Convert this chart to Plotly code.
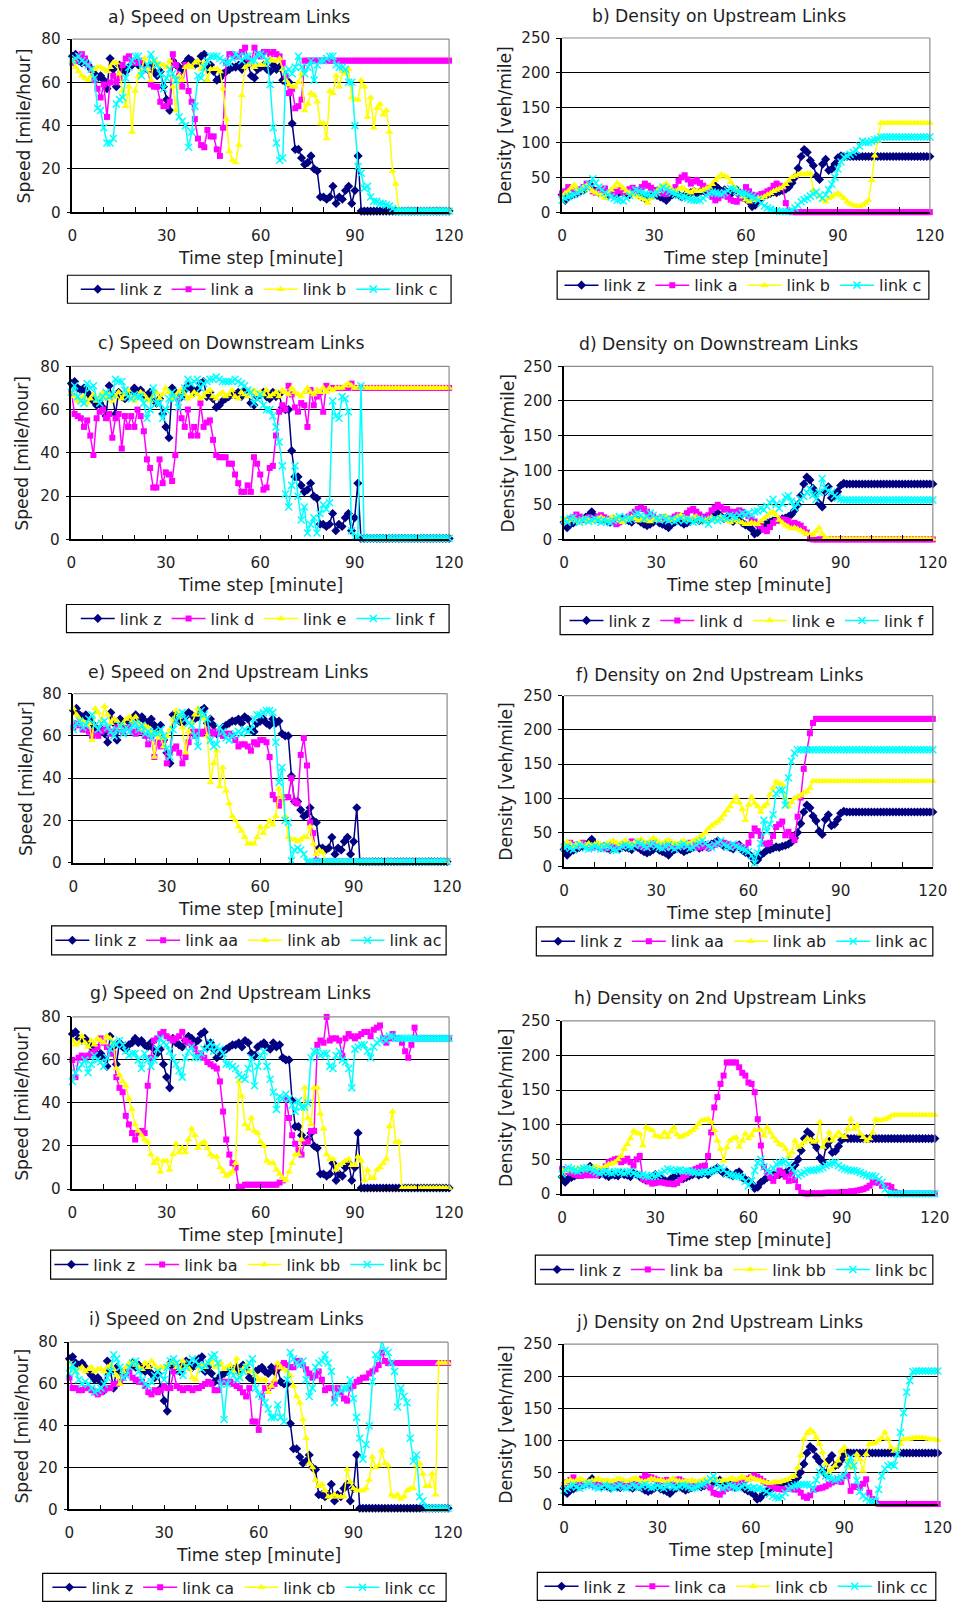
import plotly.graph_objects as go

# Target positions below are given in output-image pixels (958 x 1602).
# The page is rendered with an 8px top offset and a ~0.988 scale, so every
# target position is mapped back to figure pixels through to_fig_x/to_fig_y.
W, H = 958, 1602
S, CX, CY = 0.988, 1.0, 8.0
FW, FH = 970, 1614
T = list(range(121))

# ---------------- speed series [mile/hour] ----------------
SPEED_Z = [
    72, 73, 70, 69, 70, 68, 66, 64, 62, 63,
    61, 57, 71, 66, 58, 68, 66, 65, 67, 68,
    70, 68, 69, 67, 66, 68, 65, 63, 65, 58,
    52, 47, 70, 68, 67, 66, 69, 71, 70, 68,
    69, 72, 73, 66, 68, 65, 61, 62, 64, 65,
    66, 67, 67, 68, 66, 69, 68, 63, 62, 66,
    67, 68, 66, 65, 68, 66, 67, 61, 60, 60,
    41, 29, 29, 25, 22, 23, 26, 20, 19, 7,
    7, 6, 7, 12, 4, 7, 6, 10, 12, 4,
    10, 26, 0.5, 0.5, 0.5, 0.5, 0.5, 0.5, 0.5, 0.5,
    0.5, 0.5, 0.5, 0.5, 0.5, 0.5, 0.5, 0.5, 0.5, 0.5,
    0.5, 0.5, 0.5, 0.5, 0.5, 0.5, 0.5, 0.5, 0.5, 0.5,
    0.5]

SPEED_A = [
    69, 70, 72, 73, 71, 68, 66, 61, 57, 53,
    59, 44, 60, 63, 60, 62, 68, 71, 72, 70,
    69, 69, 70, 66, 66, 59, 58, 58, 51, 49,
    49, 51, 73, 68, 63, 58, 68, 56, 51, 43,
    34, 31, 30, 38, 35, 35, 29, 26, 39, 69,
    73, 73, 72, 72, 74, 76, 71, 69, 76, 73,
    72, 74, 74, 73, 74, 73, 72, 69, 63, 55,
    57, 48, 49, 52, 70, 70, 70, 70, 70, 70,
    70, 70, 70, 70, 70, 70, 70, 70, 70, 70,
    70, 70, 70, 70, 70, 70, 70, 70, 70, 70,
    70, 70, 70, 70, 70, 70, 70, 70, 70, 70,
    70, 70, 70, 70, 70, 70, 70, 70, 70, 70,
    70]

SPEED_B = [
    70, 67, 65, 63, 62, 61, 63, 66, 67, 67,
    66, 65, 67, 69, 69, 64, 56, 49, 58, 37,
    56, 63, 66, 71, 66, 61, 70, 69, 68, 68,
    67, 70, 58, 47, 63, 61, 67, 68, 67, 69,
    70, 66, 69, 61, 66, 66, 66, 65, 57, 43,
    28, 24, 23, 31, 54, 67, 68, 69, 67, 68,
    68, 68, 70, 71, 70, 70, 71, 66, 61, 59,
    58, 58, 60, 64, 47, 50, 55, 54, 51, 41,
    41, 34, 56, 55, 63, 58, 65, 64, 66, 53,
    52, 52, 61, 58, 44, 53, 39, 48, 50, 45,
    47, 37, 19, 13, 0.5, 0.5, 0.5, 0.5, 0.5, 0.5,
    0.5, 0.5, 0.5, 0.5, 0.5, 0.5, 0.5, 0.5, 0.5, 0.5,
    0.5]

SPEED_C = [
    70, 71, 72, 70, 69, 68, 66, 62, 48, 47,
    39, 32, 32, 34, 50, 52, 53, 62, 67, 70,
    72, 72, 63, 66, 68, 73, 70, 68, 64, 57,
    62, 66, 64, 61, 44, 42, 40, 30, 37, 49,
    63, 62, 67, 70, 72, 72, 72, 71, 70, 69,
    69, 71, 73, 72, 70, 72, 72, 70, 70, 73,
    73, 72, 70, 59, 39, 32, 24, 25, 65, 66,
    64, 67, 72, 67, 64, 67, 70, 61, 68, 70,
    70, 71, 72, 72, 68, 67, 67, 66, 60, 60,
    40, 21, 18, 11, 12, 7, 5, 5, 4, 4,
    3.3, 2.8, 1.7, 0.8, 0.5, 0.5, 0.5, 0.5, 0.5, 0.5,
    0.5, 0.5, 0.5, 0.5, 0.5, 0.5, 0.5, 0.5, 0.5, 0.5,
    0.5]

SPEED_D = [
    68, 58, 57, 56, 52, 55, 48, 39, 56, 59,
    60, 56, 58, 47, 56, 58, 42, 57, 52, 57,
    52, 60, 57, 50, 37, 33, 24, 24, 37, 26,
    31, 30, 27, 39, 65, 56, 52, 60, 48, 52,
    48, 63, 52, 54, 55, 46, 39, 38, 38, 38,
    35, 35, 30, 26, 22, 22, 25, 22, 38, 35,
    30, 23, 24, 33, 34, 48, 59, 62, 60, 71,
    67, 61, 59, 63, 62, 52, 69, 62, 66, 68,
    59, 71, 70, 70, 70, 70, 70, 70, 70, 72,
    70, 70, 70, 70, 70, 70, 70, 70, 70, 70,
    70, 70, 70, 70, 70, 70, 70, 70, 70, 70,
    70, 70, 70, 70, 70, 70, 70, 70, 70, 70,
    70]

SPEED_E = [
    68, 66, 64, 65, 66, 63, 65, 67, 64, 66,
    68, 65, 67, 64, 66, 68, 65, 67, 69, 66,
    64, 66, 68, 67, 65, 64, 66, 68, 65, 67,
    70, 68, 65, 66, 68, 69, 67, 65, 66, 68,
    67, 65, 66, 68, 69, 66, 65, 67, 68, 66,
    67, 69, 66, 65, 68, 67, 66, 68, 69, 67,
    68, 67, 69, 66, 67, 68, 66, 69, 68, 67,
    70, 68, 67, 66, 68, 70, 68, 67, 69, 68,
    70, 68, 70, 69, 70, 70, 70, 71, 72, 71,
    70, 70, 70, 70, 70, 70, 70, 70, 70, 70,
    70, 70, 70, 70, 70, 70, 70, 70, 70, 70,
    70, 70, 70, 70, 70, 70, 70, 70, 70, 70,
    70]

SPEED_F = [
    68, 71, 66, 64, 63, 72, 70, 71, 65, 63,
    66, 68, 66, 67, 74, 73, 73, 69, 66, 65,
    67, 66, 66, 63, 56, 60, 70, 63, 63, 56,
    60, 65, 68, 65, 61, 66, 70, 74, 72, 73,
    74, 70, 72, 73, 74, 74, 75, 74, 73, 73,
    73, 73, 74, 73, 72, 71, 69, 68, 63, 65,
    67, 62, 60, 60, 57, 52, 45, 34, 21, 15,
    25, 34, 20, 9, 15, 3, 7, 10, 3, 12,
    16, 14, 17, 64, 57, 56, 66, 65, 59, 4,
    1, 1, 71, 0.5, 0.5, 0.5, 0.5, 0.5, 0.5, 0.5,
    0.5, 0.5, 0.5, 0.5, 0.5, 0.5, 0.5, 0.5, 0.5, 0.5,
    0.5, 0.5, 0.5, 0.5, 0.5, 0.5, 0.5, 0.5, 0.5, 0.5,
    0.5]

SPEED_AA = [
    64, 66, 65, 63, 63, 62, 60, 61, 60, 62,
    63, 63, 61, 62, 64, 63, 62, 64, 64, 62,
    61, 63, 62, 60, 56, 60, 50, 57, 55, 58,
    47, 52, 54, 55, 52, 47, 50, 57, 62, 60,
    62, 61, 62, 63, 62, 61, 62, 61, 60, 61,
    61, 60, 58, 55, 56, 56, 55, 53, 57, 56,
    58, 58, 57, 50, 32, 30, 27, 30, 31, 31,
    40, 29, 28, 51, 59, 46, 19, 14, 1, 0.5,
    0.5, 0.5, 0.5, 0.5, 0.5, 0.5, 0.5, 0.5, 0.5, 0.5,
    0.5, 0.5, 0.5, 0.5, 0.5, 0.5, 0.5, 0.5, 0.5, 0.5,
    0.5, 0.5, 0.5, 0.5, 0.5, 0.5, 0.5, 0.5, 0.5, 0.5,
    0.5, 0.5, 0.5, 0.5, 0.5, 0.5, 0.5, 0.5, 0.5, 0.5,
    0.5]

SPEED_AB = [
    73, 70, 68, 67, 65, 66, 58, 73, 71, 67,
    74, 70, 66, 68, 67, 64, 66, 68, 69, 67,
    69, 66, 63, 65, 64, 62, 50, 61, 59, 55,
    60, 63, 68, 72, 70, 64, 52, 62, 66, 70,
    73, 70, 68, 60, 38, 47, 53, 36, 45, 34,
    28, 22, 20, 17, 15, 12, 9, 9, 9, 12,
    17, 14, 17, 20, 18, 22, 35, 31, 22, 12,
    11, 11, 10, 11, 12, 12, 17, 9, 4, 6,
    5, 0.5, 0.5, 0.5, 0.5, 0.5, 0.5, 0.5, 0.5, 0.5,
    0.5, 0.5, 0.5, 0.5, 0.5, 0.5, 0.5, 0.5, 0.5, 0.5,
    0.5, 0.5, 0.5, 0.5, 0.5, 0.5, 0.5, 0.5, 0.5, 0.5,
    0.5, 0.5, 0.5, 0.5, 0.5, 0.5, 0.5, 0.5, 0.5, 0.5,
    0.5]

SPEED_AC = [
    63, 66, 67, 64, 65, 68, 70, 65, 63, 66,
    67, 64, 62, 60, 63, 65, 61, 64, 62, 65,
    66, 63, 65, 61, 62, 59, 62, 61, 63, 60,
    54, 50, 63, 67, 70, 71, 68, 66, 65, 60,
    55, 72, 70, 68, 58, 55, 56, 64, 62, 59,
    58, 60, 61, 62, 61, 63, 62, 63, 68, 70,
    70, 71, 72, 72, 71, 57, 38, 45, 20, 19,
    1, 6, 7, 6, 4, 0.5, 0.5, 0.5, 0.5, 0.5,
    0.5, 0.5, 0.5, 0.5, 0.5, 0.5, 0.5, 0.5, 0.5, 0.5,
    0.5, 0.5, 0.5, 0.5, 0.5, 0.5, 0.5, 0.5, 0.5, 0.5,
    0.5, 0.5, 0.5, 0.5, 0.5, 0.5, 0.5, 0.5, 0.5, 0.5,
    0.5, 0.5, 0.5, 0.5, 0.5, 0.5, 0.5, 0.5, 0.5, 0.5,
    0.5]

SPEED_BA = [
    60, 52, 61, 62, 61, 62, 63, 64, 66, 70,
    68, 66, 63, 63, 52, 47, 45, 34, 30, 26,
    23, 26, 27, 26, 48, 61, 69, 70, 72, 73,
    71, 70, 69, 70, 71, 73, 69, 68, 67, 65,
    62, 63, 61, 59, 58, 57, 56, 50, 36, 23,
    16, 12, 10, 1, 1, 2, 2, 2, 2, 2,
    2, 2, 2, 2, 2, 2, 3, 4, 42, 33,
    25, 21, 18, 16, 22, 22, 27, 27, 67, 69,
    68, 80, 69, 70, 70, 69, 62, 70, 72, 71,
    70, 71, 72, 73, 73, 71, 74, 75, 76, 70,
    68, 70, 72, 70, 70, 68, 64, 61, 67, 75,
    70, 70, 70, 70, 70, 70, 70, 70, 70, 70,
    70]

SPEED_BB = [
    69, 67, 68, 71, 68, 66, 69, 67, 70, 69,
    68, 71, 70, 68, 56, 53, 50, 48, 42, 37,
    30, 27, 25, 23, 22, 16, 12, 14, 8, 13,
    13, 9, 16, 21, 17, 19, 17, 23, 28, 25,
    19, 21, 22, 19, 16, 15, 15, 10, 8, 6,
    7, 8, 12, 50, 43, 30, 28, 33, 27, 26,
    22, 20, 13, 12, 12, 9, 7, 5, 4, 8,
    12, 16, 16, 23, 47, 33, 30, 47, 47, 35,
    28, 16, 14, 14, 9, 11, 12, 13, 14, 11,
    11, 15, 13, 4, 9, 5, 5, 9, 10, 12,
    14, 29, 36, 22, 22, 0.5, 0.5, 0.5, 0.5, 0.5,
    0.5, 0.5, 0.5, 0.5, 0.5, 0.5, 0.5, 0.5, 0.5, 0.5,
    0.5]

SPEED_BC = [
    50, 54, 56, 58, 60, 54, 58, 62, 60, 59,
    57, 61, 65, 68, 67, 69, 67, 64, 62, 63,
    63, 60, 56, 63, 60, 57, 60, 65, 70, 68,
    67, 64, 61, 58, 55, 52, 61, 64, 66, 61,
    61, 63, 65, 66, 68, 64, 66, 65, 63, 58,
    58, 57, 56, 53, 52, 51, 56, 61, 48, 57,
    62, 64, 57, 51, 45, 37, 43, 42, 44, 42,
    39, 36, 41, 38, 38, 40, 61, 64, 64, 62,
    63, 63, 57, 56, 62, 64, 60, 59, 56, 47,
    65, 66, 67, 67, 64, 61, 66, 68, 69, 70,
    69, 71, 71, 70, 70, 70, 70, 70, 70, 70,
    70, 70, 70, 70, 70, 70, 70, 70, 70, 70,
    70]

SPEED_CA = [
    63, 58, 58, 57, 57, 58, 58, 57, 56, 55,
    56, 57, 58, 58, 60, 60, 61, 63, 65, 66,
    63, 62, 61, 61, 59, 56, 55, 57, 56, 57,
    59, 58, 58, 66, 59, 58, 57, 58, 58, 57,
    58, 58, 59, 60, 61, 60, 57, 57, 61, 61,
    61, 61, 60, 59, 58, 56, 54, 58, 42, 42,
    38, 54, 58, 58, 59, 60, 68, 69, 70, 69,
    68, 68, 71, 71, 69, 67, 65, 63, 64, 66,
    62, 57, 58, 58, 53, 58, 56, 53, 52, 58,
    59, 61, 62, 63, 63, 65, 66, 67, 69, 75,
    71, 70, 70, 70, 70, 70, 70, 70, 70, 70,
    70, 70, 70, 70, 70, 70, 70, 70, 70, 70,
    70]

SPEED_CB = [
    70, 68, 66, 67, 68, 66, 67, 68, 66, 67,
    67, 66, 68, 69, 67, 64, 60, 66, 68, 70,
    70, 69, 68, 67, 70, 68, 71, 69, 67, 68,
    68, 69, 70, 71, 68, 67, 71, 68, 67, 63,
    62, 68, 69, 68, 70, 71, 68, 69, 70, 67,
    68, 69, 66, 72, 63, 67, 69, 66, 66, 64,
    62, 62, 62, 56, 59, 62, 70, 68, 67, 66,
    64, 59, 54, 51, 43, 34, 22, 20, 14, 11,
    12, 9, 6, 6, 7, 6, 6, 6, 19, 13,
    10, 9, 9, 9, 10, 14, 25, 20, 21, 28,
    22, 21, 7, 6, 7, 5, 6, 9, 10, 10,
    21, 22, 17, 11, 11, 17, 7, 70, 70, 70,
    70]

SPEED_CC = [
    65, 69, 66, 62, 60, 61, 60, 58, 56, 57,
    58, 60, 63, 66, 74, 72, 68, 63, 64, 68,
    70, 71, 66, 62, 60, 59, 61, 64, 66, 64,
    62, 68, 71, 72, 70, 66, 64, 68, 70, 72,
    71, 69, 67, 69, 70, 73, 74, 70, 60, 43,
    60, 66, 64, 62, 63, 66, 68, 70, 72, 58,
    55, 54, 51, 48, 44, 44, 50, 44, 42, 62,
    75, 72, 70, 69, 71, 62, 54, 58, 68, 70,
    71, 74, 70, 66, 51, 55, 57, 58, 58, 62,
    53, 44, 34, 24, 31, 40, 61, 74, 72, 81,
    76, 75, 70, 66, 49, 58, 54, 51, 34, 23,
    26, 6, 4, 0.5, 0.5, 0.5, 0.5, 0.5, 0.5, 0.5,
    0.5]

# ---------------- density series [veh/mile] ----------------
DENS_Z = [
    25, 17, 22, 24, 26, 28, 30, 32, 35, 40,
    33, 30, 28, 30, 27, 25, 28, 27, 26, 30,
    28, 27, 25, 30, 28, 25, 22, 20, 22, 25,
    28, 24, 22, 20, 17, 22, 25, 27, 25, 22,
    24, 26, 28, 30, 27, 29, 31, 28, 33, 35,
    38, 34, 30, 32, 28, 26, 30, 32, 24, 21,
    19, 15, 8, 10, 17, 20, 24, 25, 27, 29,
    28, 30, 31, 33, 36, 42, 50, 63, 80, 90,
    86, 74, 67, 52, 47, 69, 76, 60, 62, 69,
    78, 81, 80, 80, 80, 80, 80, 80, 80, 80,
    80, 80, 80, 80, 80, 80, 80, 80, 80, 80,
    80, 80, 80, 80, 80, 80, 80, 80, 80, 80,
    80]

DENS_A = [
    27, 30, 36, 32, 30, 28, 33, 36, 41, 35,
    30, 28, 32, 30, 34, 28, 25, 27, 30, 32,
    28, 30, 33, 35, 30, 32, 36, 41, 38, 35,
    32, 28, 30, 27, 26, 30, 32, 36, 45, 50,
    53, 47, 41, 44, 46, 42, 38, 35, 28, 22,
    17, 20, 24, 28, 22, 18, 16, 15, 20, 28,
    36, 30, 25, 22, 24, 26, 27, 30, 32, 38,
    41, 38, 36, 13, 1, 0, 0, 0, 0, 0,
    0, 0, 0, 0, 0, 0, 0, 0, 0, 0,
    0, 0, 0, 0, 0, 0, 0, 0, 0, 0,
    0, 0, 0, 0, 0, 0, 0, 0, 0, 0,
    0, 0, 0, 0, 0, 0, 0, 0, 0, 0,
    0]

DENS_B = [
    20, 27, 30, 35, 39, 33, 30, 36, 38, 33,
    30, 28, 26, 24, 20, 26, 32, 36, 42, 38,
    34, 30, 28, 26, 24, 22, 20, 18, 13, 20,
    25, 30, 36, 38, 41, 36, 32, 30, 33, 35,
    33, 30, 28, 32, 30, 30, 32, 34, 36, 40,
    46, 50, 54, 52, 50, 43, 37, 32, 27, 22,
    18, 15, 17, 18, 20, 20, 22, 25, 27, 30,
    32, 34, 36, 40, 45, 50, 52, 54, 55, 54,
    55, 55, 32, 27, 22, 18, 15, 20, 22, 25,
    27, 24, 20, 15, 12, 10, 9, 8, 10, 13,
    17, 46, 81, 102, 128, 128, 128, 128, 128, 128,
    128, 128, 128, 128, 128, 128, 128, 128, 128, 128,
    128]

DENS_C = [
    17, 20, 22, 24, 25, 28, 30, 33, 36, 40,
    48, 42, 36, 32, 28, 25, 22, 20, 17, 18,
    16, 20, 24, 28, 32, 30, 28, 26, 25, 24,
    26, 28, 32, 36, 33, 30, 28, 26, 24, 22,
    22, 20, 18, 17, 17, 17, 20, 24, 27, 29,
    28, 27, 26, 28, 31, 34, 33, 30, 28, 27,
    26, 24, 22, 20, 17, 13, 9, 6, 4, 2,
    2, 1, 1, 1, 1, 3, 6, 10, 15, 18,
    20, 23, 26, 29, 24, 20, 25, 32, 40, 50,
    62, 72, 79, 81, 83, 86, 89, 95, 102, 100,
    100, 102, 104, 105, 108, 108, 108, 108, 108, 108,
    108, 108, 108, 108, 108, 108, 108, 108, 108, 108,
    108]

DENS_D = [
    25, 28, 30, 32, 36, 33, 30, 28, 32, 30,
    30, 33, 35, 32, 30, 28, 25, 22, 25, 28,
    30, 33, 36, 40, 44, 46, 44, 40, 36, 33,
    30, 28, 32, 30, 28, 30, 33, 35, 32, 34,
    38, 42, 44, 40, 36, 33, 30, 35, 42, 46,
    50, 47, 43, 44, 40, 38, 40, 42, 40, 37,
    34, 30, 26, 22, 19, 14, 12, 18, 24, 27,
    29, 29, 28, 27, 22, 24, 22, 20, 15, 10,
    1, 0, 0, 0, 0, 0, 0, 0, 0, 0,
    0, 0, 0, 0, 0, 0, 0, 0, 0, 0,
    0, 0, 0, 0, 0, 0, 0, 0, 0, 0,
    0, 0, 0, 0, 0, 0, 0, 0, 0, 0,
    0]

DENS_E = [
    30, 26, 28, 31, 27, 25, 28, 30, 27, 26,
    28, 30, 32, 29, 27, 30, 33, 30, 27, 25,
    28, 30, 32, 30, 27, 28, 30, 27, 26, 28,
    30, 28, 32, 34, 30, 28, 30, 33, 35, 32,
    30, 28, 31, 33, 30, 28, 27, 30, 32, 29,
    30, 33, 30, 28, 25, 27, 29, 26, 24, 22,
    22, 24, 23, 22, 26, 30, 34, 38, 40, 35,
    28, 24, 20, 18, 16, 17, 15, 13, 10, 8,
    7, 6, 12, 17, 8, 3, 1, 0.5, 0.5, 0.5,
    0.5, 0.5, 0.5, 0.5, 0.5, 0.5, 0.5, 0.5, 0.5, 0.5,
    0.5, 0.5, 0.5, 0.5, 0.5, 0.5, 0.5, 0.5, 0.5, 0.5,
    0.5, 0.5, 0.5, 0.5, 0.5, 0.5, 0.5, 0.5, 0.5, 0.5,
    0.5]

DENS_F = [
    28, 25, 30, 32, 27, 25, 28, 30, 26, 28,
    30, 27, 25, 28, 26, 24, 27, 30, 33, 30,
    32, 28, 30, 36, 38, 35, 30, 33, 38, 35,
    30, 28, 32, 29, 27, 30, 26, 28, 31, 27,
    30, 28, 25, 27, 30, 28, 26, 22, 28, 30,
    27, 30, 32, 30, 35, 33, 31, 35, 38, 36,
    38, 35, 40, 41, 45, 43, 48, 53, 58, 50,
    45, 52, 61, 63, 55, 46, 52, 58, 62, 68,
    73, 64, 58, 68, 88, 74, 70, 68, 63, 60,
    58, 57, 57, 57, 57, 57, 57, 57, 57, 57,
    57, 57, 57, 57, 57, 57, 57, 57, 57, 57,
    57, 57, 57, 57, 57, 57, 57, 57, 57, 57,
    57]

DENS_AA = [
    30, 33, 35, 32, 30, 33, 35, 31, 30, 28,
    30, 32, 30, 28, 27, 30, 32, 30, 28, 30,
    33, 35, 37, 34, 32, 30, 28, 30, 32, 35,
    32, 30, 28, 30, 33, 31, 29, 30, 32, 30,
    33, 35, 32, 30, 28, 30, 29, 27, 30, 32,
    34, 36, 35, 33, 31, 30, 32, 30, 28, 27,
    35, 46, 56, 52, 45, 34, 33, 35, 45, 58,
    62, 66, 46, 51, 45, 39, 73, 101, 143, 171,
    195, 210, 216, 216, 216, 216, 216, 216, 216, 216,
    216, 216, 216, 216, 216, 216, 216, 216, 216, 216,
    216, 216, 216, 216, 216, 216, 216, 216, 216, 216,
    216, 216, 216, 216, 216, 216, 216, 216, 216, 216,
    216]

DENS_AB = [
    32, 36, 34, 30, 33, 35, 30, 32, 34, 31,
    33, 35, 32, 30, 34, 36, 38, 35, 33, 36,
    38, 35, 33, 36, 38, 40, 37, 35, 38, 42,
    38, 36, 34, 37, 39, 36, 34, 33, 36, 38,
    35, 34, 38, 40, 43, 46, 50, 56, 60, 63,
    66, 70, 76, 82, 88, 95, 102, 94, 84, 68,
    90, 102, 93, 88, 80, 88, 92, 105, 115, 124,
    122, 120, 100, 88, 94, 100, 102, 104, 108, 110,
    115, 125, 125, 125, 125, 125, 125, 125, 125, 125,
    125, 125, 125, 125, 125, 125, 125, 125, 125, 125,
    125, 125, 125, 125, 125, 125, 125, 125, 125, 125,
    125, 125, 125, 125, 125, 125, 125, 125, 125, 125,
    125]

DENS_AC = [
    28, 30, 27, 25, 29, 32, 30, 27, 26, 28,
    30, 28, 26, 29, 31, 28, 25, 24, 27, 30,
    32, 30, 28, 31, 35, 33, 30, 28, 32, 34,
    30, 28, 27, 30, 32, 28, 26, 29, 31, 33,
    30, 27, 28, 32, 35, 38, 34, 30, 28, 32,
    35, 38, 32, 30, 28, 33, 30, 28, 26, 24,
    22, 16, 5, 20, 34, 68, 51, 62, 76, 107,
    112, 112, 90, 130, 154, 166, 171, 171, 171, 171,
    171, 171, 171, 171, 171, 171, 171, 171, 171, 171,
    171, 171, 171, 171, 171, 171, 171, 171, 171, 171,
    171, 171, 171, 171, 171, 171, 171, 171, 171, 171,
    171, 171, 171, 171, 171, 171, 171, 171, 171, 171,
    171]

DENS_BA = [
    36, 34, 32, 30, 28, 27, 26, 27, 28, 27,
    28, 27, 30, 34, 40, 46, 48, 50, 51, 46,
    48, 51, 46, 41, 50, 55, 22, 20, 18, 15,
    16, 17, 17, 16, 15, 15, 14, 16, 20, 24,
    27, 30, 34, 36, 38, 40, 41, 55, 89, 125,
    140, 159, 171, 190, 190, 190, 190, 183, 175, 171,
    161, 159, 147, 108, 70, 39, 31, 25, 19, 26,
    34, 30, 25, 19, 29, 20, 10, 2, 1, 0.5,
    1, 1, 1, 1, 1, 2, 2, 2, 2, 2,
    3, 3, 3, 4, 4, 5, 6, 7, 9, 12,
    17, 17, 16, 12, 12, 12, 10, 3, 1, 0.5,
    0.5, 0.5, 0.5, 0.5, 0.5, 0.5, 0.5, 0.5, 0.5, 0.5,
    0.5]

DENS_BB = [
    34, 33, 35, 36, 34, 37, 36, 35, 38, 37,
    38, 39, 37, 38, 40, 43, 44, 46, 50, 55,
    65, 72, 80, 91, 88, 87, 70, 96, 94, 92,
    84, 83, 82, 89, 82, 90, 96, 86, 82, 84,
    86, 89, 92, 96, 101, 106, 107, 108, 104, 92,
    77, 65, 48, 67, 77, 80, 82, 68, 77, 87,
    80, 85, 92, 92, 92, 84, 96, 89, 82, 77,
    72, 70, 65, 55, 60, 77, 68, 70, 75, 80,
    78, 75, 77, 104, 68, 77, 89, 77, 83, 89,
    84, 82, 94, 108, 94, 99, 87, 82, 77, 80,
    89, 108, 106, 107, 108, 110, 113, 114, 114, 114,
    114, 114, 114, 114, 114, 114, 114, 114, 114, 114,
    114]

DENS_BC = [
    29, 35, 38, 36, 34, 33, 35, 37, 38, 36,
    34, 32, 30, 32, 33, 31, 30, 32, 33, 31,
    30, 32, 33, 30, 28, 27, 28, 26, 25, 27,
    26, 28, 30, 33, 36, 35, 33, 34, 35, 33,
    34, 33, 32, 31, 30, 31, 32, 31, 33, 34,
    36, 38, 35, 30, 28, 27, 26, 25, 24, 18,
    12, 19, 34, 45, 50, 39, 34, 31, 37, 43,
    45, 46, 48, 43, 38, 30, 26, 29, 31, 34,
    34, 34, 35, 36, 38, 41, 43, 45, 46, 41,
    38, 36, 35, 34, 34, 33, 31, 29, 27, 26,
    26, 25, 21, 17, 7, 1, 0.5, 0.5, 0.5, 0.5,
    0.5, 0.5, 0.5, 0.5, 0.5, 0.5, 0.5, 0.5, 0.5, 0.5,
    0.5]

DENS_CA = [
    30, 34, 38, 42, 36, 33, 30, 32, 34, 30,
    28, 30, 33, 35, 32, 30, 28, 30, 32, 30,
    28, 31, 33, 30, 28, 40, 45, 43, 42, 40,
    38, 37, 36, 38, 36, 35, 38, 39, 36, 34,
    33, 32, 30, 32, 34, 33, 30, 26, 18, 16,
    15, 20, 24, 26, 30, 33, 35, 37, 38, 40,
    42, 45, 43, 40, 36, 33, 30, 28, 25, 24,
    23, 24, 25, 24, 23, 23, 18, 12, 10, 14,
    23, 24, 25, 26, 28, 31, 34, 36, 39, 35,
    44, 44, 21, 28, 27, 26, 32, 39, 18, 8,
    3, 0.5, 0.5, 0.5, 0.5, 0.5, 0.5, 0.5, 0.5, 0.5,
    0.5, 0.5, 0.5, 0.5, 0.5, 0.5, 0.5, 0.5, 0.5, 0.5,
    0.5]

DENS_CB = [
    33, 36, 38, 35, 37, 40, 38, 36, 35, 37,
    38, 40, 37, 36, 38, 35, 37, 39, 40, 38,
    36, 37, 39, 41, 38, 36, 35, 37, 40, 39,
    37, 38, 36, 35, 38, 40, 37, 36, 35, 37,
    35, 38, 36, 35, 37, 39, 36, 38, 40, 37,
    36, 38, 37, 39, 41, 38, 40, 43, 41, 38,
    42, 40, 38, 37, 35, 34, 33, 34, 35, 34,
    36, 37, 39, 42, 44, 57, 76, 102, 111, 116,
    112, 104, 94, 81, 63, 50, 55, 60, 68, 83,
    89, 68, 57, 60, 78, 70, 52, 78, 94, 95,
    96, 100, 103, 112, 102, 89, 83, 86, 94, 102,
    101, 102, 103, 104, 104, 104, 103, 102, 101, 101,
    100]

DENS_CC = [
    22, 25, 28, 30, 27, 25, 28, 30, 32, 29,
    27, 25, 27, 30, 28, 26, 25, 28, 30, 27,
    25, 27, 30, 28, 26, 29, 31, 28, 26, 27,
    29, 27, 25, 28, 30, 27, 26, 28, 30, 29,
    27, 25, 26, 28, 30, 32, 35, 40, 44, 32,
    28, 25, 27, 30, 28, 26, 25, 28, 30, 27,
    25, 26, 24, 25, 23, 20, 16, 13, 11, 10,
    12, 18, 24, 27, 29, 30, 31, 31, 31, 30,
    23, 38, 50, 55, 44, 42, 40, 38, 40, 42,
    45, 62, 73, 60, 37, 20, 13, 9, 5, 5,
    5, 23, 44, 55, 60, 62, 60, 78, 112, 143,
    175, 193, 207, 208, 208, 208, 208, 208, 208, 208,
    208]

# ---------------- panel definitions (target positions, image pixels) ----------------
SPEED_T = "Speed [mile/hour]"
DENS_T = "Density [veh/mile]"

PANELS = [
    dict(title="a) Speed on Upstream Links", ytitle=SPEED_T,
         names=["link z", "link a", "link b", "link c"],
         series=[SPEED_Z, SPEED_A, SPEED_B, SPEED_C],
         ymax=80, dy=20, box=(69, 449, 38, 211), tpos=(227, 16), ytx=20,
         leg=(64, 451, 274, 302)),
    dict(title="b) Density on Upstream Links", ytitle=DENS_T,
         names=["link z", "link a", "link b", "link c"],
         series=[DENS_Z, DENS_A, DENS_B, DENS_C],
         ymax=250, dy=50, box=(563, 934, 37, 211), tpos=(721, 15), ytx=505,
         leg=(558, 933, 270, 298)),
    dict(title="c) Speed on Downstream Links", ytitle=SPEED_T,
         names=["link z", "link d", "link e", "link f"],
         series=[SPEED_Z, SPEED_D, SPEED_E, SPEED_F],
         ymax=80, dy=20, box=(68, 449, 365, 538), tpos=(229, 342), ytx=18,
         leg=(63, 449, 603, 631)),
    dict(title="d) Density on Downstream Links", ytitle=DENS_T,
         names=["link z", "link d", "link e", "link f"],
         series=[DENS_Z, DENS_D, DENS_E, DENS_F],
         ymax=250, dy=50, box=(565, 937, 365, 538), tpos=(721, 343), ytx=508,
         leg=(561, 937, 605, 633)),
    dict(title="e) Speed on 2nd Upstream Links", ytitle=SPEED_T,
         names=["link z", "link aa", "link ab", "link ac"],
         series=[SPEED_Z, SPEED_AA, SPEED_AB, SPEED_AC],
         ymax=80, dy=20, box=(70, 447, 692, 861), tpos=(226, 670), ytx=22,
         leg=(48, 446, 924, 953)),
    dict(title="f) Density on 2nd Upstream Links", ytitle=DENS_T,
         names=["link z", "link aa", "link ab", "link ac"],
         series=[DENS_Z, DENS_AA, DENS_AB, DENS_AC],
         ymax=250, dy=50, box=(565, 937, 694, 865), tpos=(722, 673), ytx=507,
         leg=(537, 937, 925, 954)),
    dict(title="g) Speed on 2nd Upstream Links", ytitle=SPEED_T,
         names=["link z", "link ba", "link bb", "link bc"],
         series=[SPEED_Z, SPEED_BA, SPEED_BB, SPEED_BC],
         ymax=80, dy=20, box=(69, 449, 1015, 1187), tpos=(228, 991), ytx=18,
         leg=(47, 446, 1248, 1277)),
    dict(title="h) Density on 2nd Upstream Links", ytitle=DENS_T,
         names=["link z", "link ba", "link bb", "link bc"],
         series=[DENS_Z, DENS_BA, DENS_BB, DENS_BC],
         ymax=250, dy=50, box=(563, 939, 1019, 1192), tpos=(722, 996), ytx=507,
         leg=(536, 937, 1253, 1282)),
    dict(title="i) Speed on 2nd Upstream Links", ytitle=SPEED_T,
         names=["link z", "link ca", "link cb", "link cc"],
         series=[SPEED_Z, SPEED_CA, SPEED_CB, SPEED_CC],
         ymax=80, dy=20, box=(66, 448, 1340, 1507), tpos=(224, 1317), ytx=18,
         leg=(39, 446, 1571, 1599)),
    dict(title="j) Density on 2nd Upstream Links", ytitle=DENS_T,
         names=["link z", "link ca", "link cb", "link cc"],
         series=[DENS_Z, DENS_CA, DENS_CB, DENS_CC],
         ymax=250, dy=50, box=(565, 942, 1342, 1502), tpos=(722, 1320), ytx=507,
         leg=(538, 940, 1570, 1598)),
]

bad = [(p["title"], k, len(s)) for p in PANELS for k, s in enumerate(p["series"]) if len(s) != len(T)]
assert not bad, bad

COLORS = ["#000080", "#FF00FF", "#FFFF00", "#00FFFF"]
SYMBOLS = ["diamond", "square", "triangle-up", "x-thin"]
SIZES = [7, 6, 7, 7]
FONT = "DejaVu Sans"
TXT = "#1e1e1e"


def px_x(v):
    return ((v - CX) / S) / FW


def px_y(v):
    return 1 - ((v - CY) / S) / FH


def fs(v):
    return round(v / S, 1)


fig = go.Figure()
layout = dict(width=FW, height=FH, margin=dict(l=0, r=0, t=0, b=0),
              paper_bgcolor="white", plot_bgcolor="white",
              font=dict(family=FONT, color=TXT), showlegend=True)
annotations = []
shapes = []

for n, p in enumerate(PANELS, start=1):
    sfx = "" if n == 1 else str(n)
    leg_key = "legend" if n == 1 else f"legend{n}"
    x0, x1, y0, y1 = p["box"]

    for k, (name, vals) in enumerate(zip(p["names"], p["series"])):
        fig.add_trace(go.Scatter(
            x=T, y=vals, name=name, mode="lines+markers",
            xaxis="x" + sfx, yaxis="y" + sfx, legend=leg_key,
            line=dict(color=COLORS[k], width=1.5),
            marker=dict(symbol=SYMBOLS[k], size=SIZES[k], color=COLORS[k],
                        line=dict(color=COLORS[k], width=1.5 if k == 3 else 0)),
            cliponaxis=False,
        ))

    layout["xaxis" + sfx] = dict(
        domain=[px_x(x0), px_x(x1)], range=[0, 120], anchor="y" + sfx,
        tickvals=[0, 30, 60, 90, 120], ticks="inside", ticklen=5, tickcolor="black",
        minor=dict(tickvals=list(range(0, 121, 10)), ticks="inside", ticklen=5,
                   tickcolor="black", showgrid=False),
        showline=True, linecolor="black", linewidth=1.5, showgrid=False, zeroline=False,
        tickfont=dict(size=fs(15), family=FONT, color=TXT), ticklabelstandoff=9,
        fixedrange=True,
    )
    layout["yaxis" + sfx] = dict(
        domain=[px_y(y1), px_y(y0)], range=[0, p["ymax"]], anchor="x" + sfx,
        tickvals=list(range(0, p["ymax"] + 1, p["dy"])), ticks="outside", ticklen=4,
        tickcolor="black", showline=True, linecolor="black", linewidth=1.5,
        showgrid=True, gridcolor="black", gridwidth=1, zeroline=False,
        tickfont=dict(size=fs(15), family=FONT, color=TXT), ticklabelstandoff=3,
        fixedrange=True,
    )
    # grey frame on the top and right edges of the plot area
    for (ax0, ay0, ax1, ay1) in [(0, 1, 1, 1), (1, 0, 1, 1)]:
        shapes.append(dict(type="line", xref=f"x{sfx} domain", yref=f"y{sfx} domain",
                           x0=ax0, y0=ay0, x1=ax1, y1=ay1,
                           line=dict(color="#8c8c8c", width=1.2), layer="above"))

    annotations.append(dict(text=p["title"], x=px_x(p["tpos"][0]), y=px_y(p["tpos"][1]),
                            xref="paper", yref="paper", showarrow=False,
                            xanchor="center", yanchor="middle",
                            font=dict(size=fs(17), family=FONT, color=TXT)))
    annotations.append(dict(text="Time step [minute]", x=px_x((x0 + x1) / 2), y=px_y(y1 + 46),
                            xref="paper", yref="paper", showarrow=False,
                            xanchor="center", yanchor="middle",
                            font=dict(size=fs(17), family=FONT, color=TXT)))
    annotations.append(dict(text=p["ytitle"], x=px_x(p["ytx"]), y=px_y((y0 + y1) / 2),
                            xref="paper", yref="paper", showarrow=False, textangle=-90,
                            xanchor="center", yanchor="middle",
                            font=dict(size=fs(17), family=FONT, color=TXT)))

    # legend frame drawn as a rectangle, entries centred inside it
    lx0, lx1, ly0, ly1 = p["leg"]
    shapes.append(dict(type="rect", xref="paper", yref="paper",
                       x0=px_x(lx0), x1=px_x(lx1), y0=px_y(ly1), y1=px_y(ly0),
                       line=dict(color="black", width=1.2), fillcolor="white", layer="below"))
    layout[leg_key] = dict(
        x=px_x((lx0 + lx1) / 2), y=px_y((ly0 + ly1) / 2), xanchor="center", yanchor="middle",
        orientation="h", borderwidth=0, bgcolor="rgba(0,0,0,0)",
        font=dict(size=16, family=FONT, color=TXT), itemwidth=34,
        tracegroupgap=0,
    )

layout["annotations"] = annotations
layout["shapes"] = shapes
fig.update_layout(**layout)
fig.write_html("out.html")
